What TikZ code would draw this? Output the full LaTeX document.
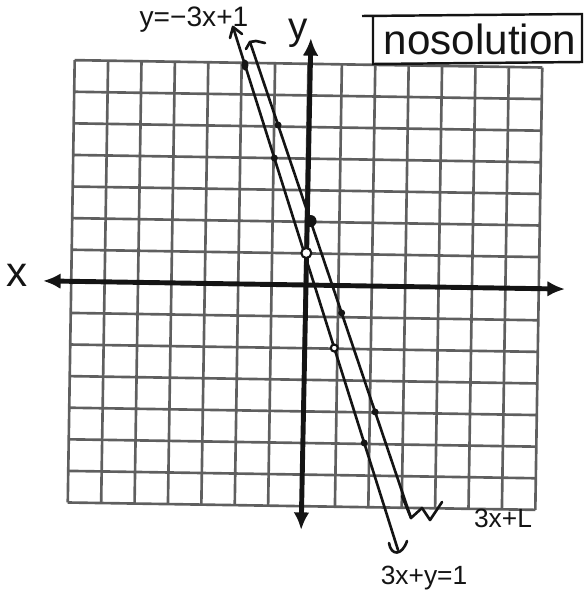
\documentclass[tikz,border=0pt]{standalone}
\usepackage{fontspec}
\setmainfont{Liberation Sans}
\usepackage{tikz}
\usetikzlibrary{arrows.meta,calc}
\definecolor{ink}{RGB}{20,20,20}
\definecolor{gridgray}{RGB}{95,95,95}

\begin{document}
\begin{tikzpicture}[x=0.02cm,y=-0.02cm,
  gridline/.style={gridgray,line width=1.5pt},
  axisline/.style={ink,line width=2.8pt,{Latex[length=10pt,width=9pt]}-{Latex[length=10pt,width=9pt]}},
  graphline/.style={ink,line width=1.5pt,line cap=round,line join=round},
  handtext/.style={ink,font=\fontsize{15}{17}\selectfont},
  ptopen/.style={draw=ink,line width=1.2pt,fill=white}]
\useasboundingbox (0,0) rectangle (584,598);
% grid and axes, a little turned as on the sheet
\begin{scope}[rotate around={-0.9:(305,285)}]
\foreach \i in {0,...,14}{
  \draw[gridline] (71.2+33.4*\i,63.8) -- (71.2+33.4*\i,506.2);
  \draw[gridline] (71.2,63.8+31.6*\i) -- (538.8,63.8+31.6*\i);
}
\coordinate (xl) at (43,285);
\coordinate (xr) at (565,285);
\coordinate (yt) at (307,38);
\coordinate (yb) at (305,530);
\draw[axisline] (xl) -- (xr);
\draw[axisline] (yb) -- (yt);
\end{scope}
% the two lines
\coordinate (a1) at (233,27);
\coordinate (a2) at (398,550);
\coordinate (b1) at (250,42);
\coordinate (b2) at (411,518);
\draw[graphline] (a1) -- (a2);
\draw[graphline] (b1) -- (b2);
\draw[graphline] (230,38) -- (a1) -- (242,34);
\draw[graphline] (246,49) -- (b1) -- (256,41) -- (265,43);
\draw[graphline] (389,543) .. controls (391,556) and (402,556) .. (407,541);
\draw[graphline] (402,496) -- (b2) -- (422,508) -- (430,520) -- (442,502);
% plotted points
\fill[ink] ($(a1)!0.0727!(a2)$) ellipse (3.5 and 5.5);
\foreach \t in {0.2505,0.7954}
  \fill[ink] ($(a1)!\t!(a2)$) circle (3.5);
\foreach \t in {0.1744,0.5693,0.7773}
  \fill[ink] ($(b1)!\t!(b2)$) circle (3.5);
\fill[ink] ($(b1)!0.3761!(b2)$) circle (6);
\draw[ptopen] ($(a1)!0.4321!(a2)+(2,0)$) circle (5);
\draw[ptopen] ($(a1)!0.6138!(a2)$) circle (3.5);
% labels
\node[handtext,font=\fontsize{16}{18}\selectfont] (eqa) at (194,20) {y=−3x+1};
\node[handtext] (eqb) at (424,578) {3x+y=1};
\node[handtext] (eqc) at (503,518) {3x+L};
\node[ink,font=\fontsize{24}{26}\selectfont] (xlab) at (17,275) {x};
\node[ink,font=\fontsize{22}{24}\selectfont] (ylab) at (298,33) {y};
\node[ink,font=\fontsize{24}{26}\selectfont] (nosol) at (480,39) {nosolution};
\draw[ink,line width=1.4pt] (362,16) -- (582,14) -- (582,62) -- (373,64) -- (373,17);
\end{tikzpicture}
\end{document}
